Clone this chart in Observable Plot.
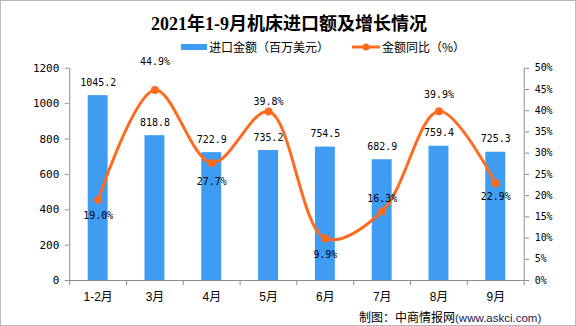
<!DOCTYPE html>
<html>
<head>
<meta charset="utf-8">
<script src="https://cdn.jsdelivr.net/npm/d3@7"></script>
<script src="https://cdn.jsdelivr.net/npm/@observablehq/plot@0.6"></script>
<style>
  html, body { margin: 0; padding: 0; background: #fff; }
  #wrap { position: relative; width: 576px; height: 326px; box-sizing: border-box; border: 1px solid #b8b8b8; overflow: hidden; }
  #title { position: absolute; left: 0; width: 576px; top: 8px; text-align: center; font: bold 18px "Liberation Serif", "Noto Sans CJK SC", serif; color: #000; }
  #legend { position: absolute; top: 38px; left: 0; width: 576px; font: 12px "Noto Sans CJK SC", sans-serif; color: #000; }
  .lg { position: absolute; top: 0; height: 16px; line-height: 16px; white-space: nowrap; }
  #caption { position: absolute; left: 358px; top: 307px; font: 12px "Noto Sans CJK SC", sans-serif; color: #000; white-space: nowrap; }
  #caption span { font: 11.5px "Liberation Sans", sans-serif; color: #1a1a50; }
  #chart { position: absolute; left: 0; top: 0; }
</style>
</head>
<body>
<div id="wrap">
  <div id="chart"></div>
  <div id="title">2021年1-9月机床进口额及增长情况</div>
  <div id="legend">
    <div class="lg" style="left:180px;top:5px;width:26px;height:6px;background:#3E9CF2;"></div>
    <div class="lg" style="left:208px;">进口金额（百万美元）</div>
    <svg class="lg" style="left:351px;top:0;" width="28" height="16"><line x1="0" y1="8" x2="28" y2="8" stroke="#FF6A1F" stroke-width="3"/><circle cx="14" cy="8" r="3.5" fill="#FF6A1F"/></svg>
    <div class="lg" style="left:381px;">金额同比（%）</div>
  </div>
  <div id="caption">制图：中商情报网<span>(www.askci.com)</span></div>
</div>
<script>
const categories = ["1-2月", "3月", "4月", "5月", "6月", "7月", "8月", "9月"];
const amounts = [1045.2, 818.8, 722.9, 735.2, 754.5, 682.9, 759.4, 725.3];
const growth = [19.0, 44.9, 27.7, 39.8, 9.9, 16.3, 39.9, 22.9];
const leftTicks = [0, 200, 400, 600, 800, 1000, 1200];
const rightTicks = [0, 5, 10, 15, 20, 25, 30, 35, 40, 45, 50];
const growthLabelDy = [16, -28, 19, -10, 16, -13, -16, 14];

const W = 576, H = 326;
const mL = 68, mR = 51, mT = 67, mB = 46;
const step = (W - mL - mR) / categories.length;
const ratio = 1200 / 50;

const rows = categories.map((c, i) => ({cat: c, amount: amounts[i], pct: growth[i], py: growth[i] * ratio, dy: growthLabelDy[i]}));

const blue = "#3E9CF2", orange = "#FF6A1F", axisGray = "#8c8c8c";
const numFont = "DejaVu Sans Mono, monospace";

const chart = Plot.plot({
  width: W, height: H,
  marginLeft: mL, marginRight: mR, marginTop: mT, marginBottom: mB,
  style: {background: "transparent", fontFamily: "Liberation Sans, Noto Sans CJK SC, sans-serif", fontSize: "12px", color: "#000"},
  x: {domain: categories, paddingInner: 0.65, paddingOuter: 0.325, label: null},
  y: {domain: [0, 1200], label: null},
  marks: [
    Plot.barY(rows, {x: "cat", y: "amount", fill: blue}),
    Plot.text(rows, {x: "cat", y: "amount", text: d => d.amount.toFixed(1), dy: -13, fontFamily: numFont, fontSize: 10, fill: "#000"}),
    Plot.line(rows, {x: "cat", y: "py", curve: "catmull-rom", stroke: orange, strokeWidth: 3}),
    Plot.dot(rows, {x: "cat", y: "py", r: 4, fill: orange}),
    ...rows.map(r => Plot.text([r], {x: "cat", y: "py", text: d => d.pct.toFixed(1) + "%", dy: r.dy, fontFamily: numFont, fontSize: 10, fill: "#000"})),
    Plot.ruleY([0], {stroke: axisGray}),
    Plot.ruleX([categories[0]], {dx: -step / 2, stroke: axisGray}),
    Plot.ruleX([categories[categories.length - 1]], {dx: step / 2, stroke: axisGray}),
    Plot.axisY({anchor: "left", ticks: leftTicks, tickFormat: d => String(d), tickSize: 4, tickPadding: 6, stroke: axisGray, fontFamily: numFont, fontSize: 11, fill: "#000", label: null}),
    Plot.axisY({anchor: "right", ticks: rightTicks.map(v => v * ratio), tickFormat: v => Math.round(v / ratio) + "%", tickSize: 4, tickPadding: 6, stroke: axisGray, fontFamily: numFont, fontSize: 10, fill: "#000", label: null}),
    Plot.axisX({ticks: categories, tickSize: 0, tickPadding: 12, fontSize: 12, fill: "#000", label: null}),
    Plot.axisX({ticks: categories, tickSize: 5, dx: -step / 2, tickFormat: () => "", stroke: axisGray, label: null}),
    Plot.axisX({ticks: [categories[categories.length - 1]], tickSize: 5, dx: step / 2, tickFormat: () => "", stroke: axisGray, label: null})
  ]
});
document.getElementById("chart").appendChild(chart);
</script>
</body>
</html>
